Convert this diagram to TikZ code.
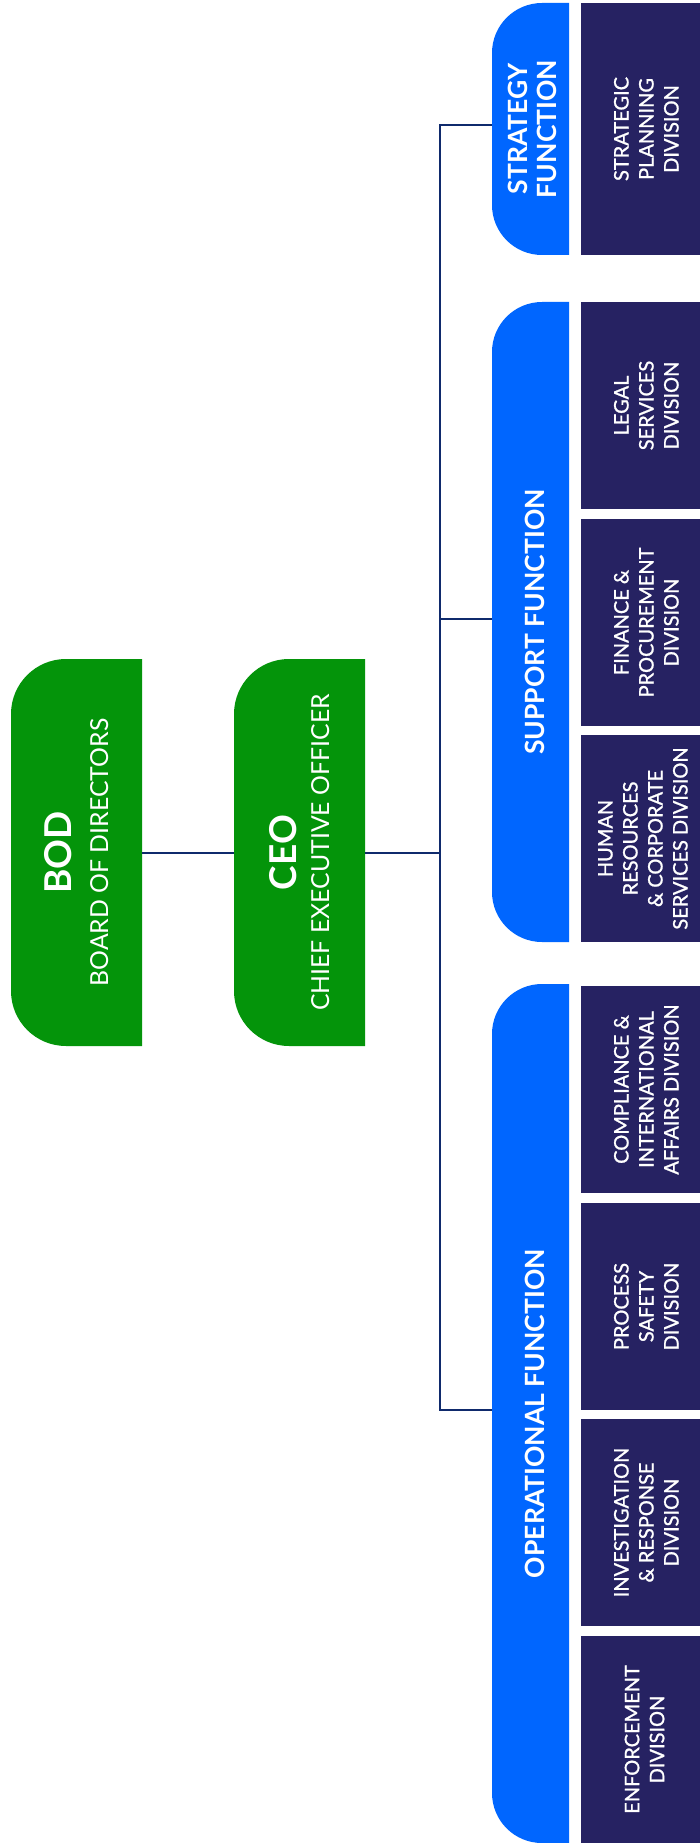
\documentclass[tikz,border=0pt]{standalone}
\usepackage{fontspec}
\setmainfont{Lato}
\newfontfamily\divfont[FakeBold=1.1]{Lato}
\usepackage{graphicx}

\definecolor{boardgreen}{HTML}{04940A}
\definecolor{fnblue}{HTML}{0066FF}
\definecolor{divnavy}{HTML}{262262}
\definecolor{linknavy}{HTML}{0F2A6C}

% lines of text set upright, reading bottom to top; the last line
% sits on the node centre, lifted by the first argument
\newcommand\uplines[2]{\rotatebox{90}{\raisebox{#1}[0pt][0pt]{%
  \begin{tabular}[b]{@{}c@{}}#2\end{tabular}}}}

\tikzset{
  % box whose two left corners are rounded
  leftround/.style 2 args={
    path picture={
      \fill[#1] (path picture bounding box.north east)
        -- ([xshift=#2]path picture bounding box.north west)
        arc[start angle=90, end angle=180, radius=#2]
        -- ([yshift=#2]path picture bounding box.south west)
        arc[start angle=180, end angle=270, radius=#2]
        -- (path picture bounding box.south east) -- cycle;
    }
  },
  chief/.style={leftround={boardgreen}{55pt}, inner sep=0pt,
    minimum width=131pt, minimum height=387pt, text=white},
  function/.style={leftround={fnblue}{50pt}, inner sep=0pt,
    minimum width=77pt, text=white,
    font={\fontsize{26.5}{29}\selectfont\bfseries}},
  division/.style={fill=divnavy, inner sep=0pt,
    minimum width=119pt, text=white,
    font={\divfont\fontsize{20}{25}\selectfont}},
  link/.style={draw=linknavy, line width=2pt},
}

\begin{document}
\begin{tikzpicture}[x=1pt, y=1pt]
  \useasboundingbox[fill=white] (0,0) rectangle (700,-1843);

  % top of the hierarchy
  \node[chief, font={\fontsize{24.8}{36.6}\selectfont}] (bod) at (76.5,-852.5)
    {\uplines{-31.5pt}{{\fontsize{37}{36.6}\selectfont\bfseries BOD}\\
      BOARD OF DIRECTORS}};
  \node[chief, font={\fontsize{24.8}{32.6}\selectfont}] (ceo) at (299.5,-852.5)
    {\uplines{-29.7pt}{{\fontsize{37}{32.6}\selectfont\bfseries CEO}\\
      CHIEF EXECUTIVE OFFICER}};

  % functions
  \node[function, minimum height=252pt] (strat) at (530.5,-129)
    {\uplines{-26pt}{STRATEGY\\FUNCTION}};
  \node[function, minimum height=640pt] (supp) at (530.5,-622)
    {\uplines{-13.5pt}{SUPPORT FUNCTION}};
  \node[function, minimum height=859pt] (oper) at (530.5,-1413.5)
    {\uplines{-14pt}{OPERATIONAL FUNCTION}};

  % divisions
  \node[division, minimum height=252pt] (plan) at (640.5,-129)
    {\uplines{-38pt}{STRATEGIC\\PLANNING\\DIVISION}};
  \node[division, minimum height=207pt] (legal) at (640.5,-405.5)
    {\uplines{-38pt}{LEGAL\\SERVICES\\DIVISION}};
  \node[division, minimum height=207pt] (fin) at (640.5,-622.5)
    {\uplines{-38pt}{FINANCE \&\\PROCUREMENT\\DIVISION}};
  \node[division, minimum height=207pt] (hr) at (640.5,-838.5)
    {\uplines{-47pt}{HUMAN\\RESOURCES\\\& CORPORATE\\SERVICES DIVISION}};
  \node[division, minimum height=207pt] (comp) at (640.5,-1089.5)
    {\uplines{-38pt}{COMPLIANCE \&\\INTERNATIONAL\\AFFAIRS DIVISION}};
  \node[division, minimum height=207pt] (proc) at (640.5,-1306.5)
    {\uplines{-38pt}{PROCESS\\SAFETY\\DIVISION}};
  \node[division, minimum height=207pt] (inv) at (640.5,-1522.5)
    {\uplines{-38pt}{INVESTIGATION\\\& RESPONSE\\DIVISION}};
  \node[division, minimum height=207pt] (enf) at (640.5,-1739.5)
    {\uplines{-23.7pt}{ENFORCEMENT\\DIVISION}};

  % reporting lines
  \coordinate (hub) at (440,-852.5);
  \draw[link] (bod.east) -- (ceo.west);
  \draw[link] (ceo.east) -- (hub);
  \draw[link] ([yshift=4pt]strat.west) -| (hub);
  \draw[link] ([yshift=3pt]supp.west) -| (hub);
  \draw[link] ([yshift=4pt]oper.west) -| (hub);
\end{tikzpicture}
\end{document}
